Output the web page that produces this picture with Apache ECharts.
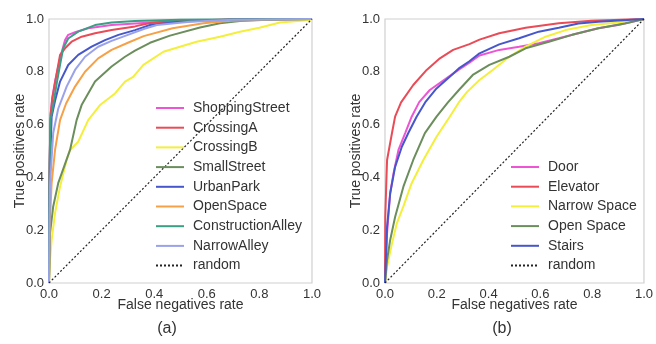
<!DOCTYPE html>
<html lang="en">
<head>
<meta charset="UTF-8">
<title>ROC curves</title>
<script src="https://cdn.jsdelivr.net/npm/echarts@6/dist/echarts.min.js"></script>
<style>
  html, body { margin: 0; padding: 0; background: #fff; }
  #main { width: 656px; height: 344px; }
</style>
</head>
<body>
<div id="main"></div>
<script>
// tick labels for both axes
var ticks = [0, 0.2, 0.4, 0.6, 0.8, 1.0];
var randomLine = [[0, 0], [1, 1]];

// (a) scenes: [false negatives rate, true positives rate]
var shoppingStreet = [[0,0],[0.002,0.4],[0.005,0.62],[0.012,0.7],[0.023,0.763],[0.042,0.851],[0.061,0.92],[0.073,0.94],[0.099,0.95],[0.149,0.965],[0.238,0.977],[0.327,0.983],[0.5,0.993],[0.7,0.998],[1,1]];
var crossingA = [[0,0],[0.002,0.42],[0.006,0.64],[0.013,0.7],[0.023,0.76],[0.042,0.864],[0.061,0.889],[0.086,0.914],[0.124,0.933],[0.175,0.946],[0.238,0.958],[0.327,0.972],[0.384,0.985],[0.5,0.993],[0.7,0.998],[1,1]];
var crossingB = [[0,0],[0.004,0.087],[0.01,0.163],[0.023,0.265],[0.042,0.365],[0.067,0.466],[0.08,0.504],[0.111,0.535],[0.149,0.617],[0.194,0.674],[0.251,0.718],[0.289,0.763],[0.32,0.781],[0.359,0.826],[0.435,0.876],[0.498,0.895],[0.561,0.914],[0.65,0.933],[0.726,0.952],[0.8,0.967],[0.878,0.987],[0.99,0.996],[1,1]];
var smallStreet = [[0,0],[0.004,0.19],[0.016,0.29],[0.035,0.378],[0.08,0.504],[0.105,0.617],[0.124,0.674],[0.175,0.763],[0.238,0.82],[0.289,0.857],[0.327,0.88],[0.384,0.91],[0.46,0.937],[0.574,0.968],[0.65,0.984],[0.726,0.992],[0.85,0.998],[1,1]];
var urbanPark = [[0,0],[0.002,0.3],[0.004,0.44],[0.01,0.63],[0.023,0.69],[0.042,0.763],[0.073,0.826],[0.111,0.864],[0.162,0.895],[0.213,0.92],[0.264,0.94],[0.327,0.958],[0.384,0.977],[0.498,0.99],[0.7,0.998],[1,1]];
var openSpace = [[0,0],[0.003,0.22],[0.01,0.378],[0.023,0.504],[0.042,0.617],[0.065,0.68],[0.099,0.744],[0.137,0.8],[0.187,0.851],[0.238,0.883],[0.3,0.91],[0.36,0.935],[0.47,0.965],[0.587,0.984],[0.69,0.993],[0.85,0.998],[1,1]];
var constructionAlley = [[0,0],[0.002,0.45],[0.006,0.62],[0.016,0.674],[0.03,0.76],[0.042,0.826],[0.054,0.889],[0.073,0.926],[0.111,0.952],[0.175,0.977],[0.238,0.987],[0.327,0.992],[0.5,0.997],[1,1]];
var narrowAlley = [[0,0],[0.002,0.25],[0.004,0.378],[0.016,0.568],[0.035,0.66],[0.067,0.744],[0.099,0.807],[0.137,0.857],[0.187,0.895],[0.238,0.917],[0.3,0.94],[0.36,0.962],[0.41,0.977],[0.536,0.99],[0.7,0.997],[1,1]];

// (b) places
var door = [[0,0],[0.008,0.189],[0.02,0.34],[0.033,0.416],[0.052,0.504],[0.078,0.568],[0.103,0.63],[0.132,0.685],[0.173,0.731],[0.237,0.775],[0.288,0.81],[0.326,0.835],[0.365,0.862],[0.441,0.883],[0.518,0.895],[0.594,0.908],[0.671,0.927],[0.747,0.946],[0.824,0.965],[0.9,0.977],[1,1]];
var elevator = [[0,0],[0.001,0.25],[0.005,0.378],[0.008,0.466],[0.027,0.568],[0.039,0.63],[0.062,0.684],[0.109,0.75],[0.161,0.807],[0.212,0.851],[0.263,0.883],[0.326,0.905],[0.365,0.922],[0.441,0.946],[0.543,0.967],[0.671,0.984],[0.797,0.993],[1,1]];
var narrowSpace = [[0,0],[0.008,0.062],[0.027,0.15],[0.046,0.227],[0.071,0.29],[0.103,0.378],[0.148,0.466],[0.199,0.554],[0.25,0.63],[0.285,0.684],[0.317,0.724],[0.365,0.769],[0.416,0.807],[0.48,0.857],[0.543,0.895],[0.62,0.933],[0.697,0.958],[0.798,0.977],[0.9,0.987],[1,1]];
var openSpaceB = [[0,0],[0.008,0.087],[0.02,0.163],[0.039,0.25],[0.071,0.365],[0.109,0.466],[0.154,0.568],[0.199,0.63],[0.243,0.684],[0.288,0.734],[0.339,0.788],[0.403,0.826],[0.48,0.857],[0.543,0.889],[0.633,0.914],[0.722,0.94],[0.824,0.965],[0.926,0.983],[1,1]];
var stairs = [[0,0],[0.008,0.213],[0.02,0.34],[0.039,0.44],[0.065,0.516],[0.09,0.568],[0.122,0.63],[0.155,0.684],[0.199,0.737],[0.25,0.781],[0.288,0.815],[0.326,0.84],[0.365,0.87],[0.441,0.904],[0.518,0.927],[0.594,0.952],[0.671,0.967],[0.747,0.983],[0.824,0.99],[1,1]];

var seriesA = [
  ['ShoppingStreet', shoppingStreet, '#ee55d4'],
  ['CrossingA', crossingA, '#e94b57'],
  ['CrossingB', crossingB, '#f4ef3a'],
  ['SmallStreet', smallStreet, '#6b8e5c'],
  ['UrbanPark', urbanPark, '#4657cc'],
  ['OpenSpace', openSpace, '#f6a047'],
  ['ConstructionAlley', constructionAlley, '#3a9f85'],
  ['NarrowAlley', narrowAlley, '#9aa2ea']
];
var seriesB = [
  ['Door', door, '#ee55d4'],
  ['Elevator', elevator, '#e94b57'],
  ['Narrow Space', narrowSpace, '#f4ef3a'],
  ['Open Space', openSpaceB, '#6b8e5c'],
  ['Stairs', stairs, '#4657cc']
];

var font = 'Liberation Sans, Arial, sans-serif';
var txt = '#333';

function axisX(idx) {
  return {
    gridIndex: idx, type: 'value', min: 0, max: 1, interval: 0.2,
    name: 'False negatives rate', nameLocation: 'middle', nameGap: 15, nameMoveOverlap: false,
    nameTextStyle: { color: txt, fontSize: 14, fontFamily: font },
    axisLine: { show: false }, axisTick: { show: false }, splitLine: { show: false },
    axisLabel: { color: txt, fontSize: 13, fontFamily: font, margin: 5,
      formatter: function (v) { return v.toFixed(1); } }
  };
}
function axisY(idx) {
  return {
    gridIndex: idx, type: 'value', min: 0, max: 1, interval: 0.2,
    name: 'True positives rate', nameLocation: 'middle', nameGap: 22, nameMoveOverlap: false,
    nameTextStyle: { color: txt, fontSize: 14, fontFamily: font },
    axisLine: { show: false }, axisTick: { show: false }, splitLine: { show: false },
    axisLabel: { color: txt, fontSize: 13, fontFamily: font, margin: 5,
      formatter: function (v) { return v.toFixed(1); } }
  };
}

var series = [];
function addSeries(list, gi) {
  list.forEach(function (s) {
    series.push({
      name: s[0], type: 'line', xAxisIndex: gi, yAxisIndex: gi,
      data: s[1], symbol: 'none', silent: true,
      lineStyle: { color: s[2], width: 2 }, itemStyle: { color: s[2] }
    });
  });
  series.push({
    name: 'random', type: 'line', xAxisIndex: gi, yAxisIndex: gi,
    data: randomLine, symbol: 'none', silent: true,
    lineStyle: { color: '#222', width: 1.2, type: [2, 2] }, itemStyle: { color: '#222' }
  });
}
addSeries(seriesA, 0);
addSeries(seriesB, 1);

function legendFor(list, left, top) {
  return {
    orient: 'vertical', left: left, top: top,
    data: list.map(function (s) { return s[0]; }).concat(['random']),
    itemWidth: 28, itemHeight: 14, itemGap: 5.7,
    selectedMode: false,
    itemStyle: { opacity: 0 },
    textStyle: { color: txt, fontSize: 14, fontFamily: font, padding: [0, 0, 0, 4] }
  };
}

var myChart = echarts.init(document.getElementById('main'));
var option = {
  animation: false,
  backgroundColor: '#fff',
  grid: [
    { left: 49, right: 344, top: 19, bottom: 61, show: true, borderColor: '#d0d0d0', borderWidth: 1.2 },
    { left: 385, right: 10, top: 19, bottom: 61, show: true, borderColor: '#d0d0d0', borderWidth: 1.2 }
  ],
  xAxis: [axisX(0), axisX(1)],
  yAxis: [axisY(0), axisY(1)],
  legend: [legendFor(seriesA, 150, 96), legendFor(seriesB, 505, 155)],
  graphic: [
    { type: 'text', x: 167, y: 329, style: { text: '(a)', fill: txt, fontSize: 16, fontFamily: font, textAlign: 'center', textVerticalAlign: 'middle' } },
    { type: 'text', x: 502, y: 329, style: { text: '(b)', fill: txt, fontSize: 16, fontFamily: font, textAlign: 'center', textVerticalAlign: 'middle' } }
  ],
  series: series
};
myChart.setOption(option);
</script>
</body>
</html>
